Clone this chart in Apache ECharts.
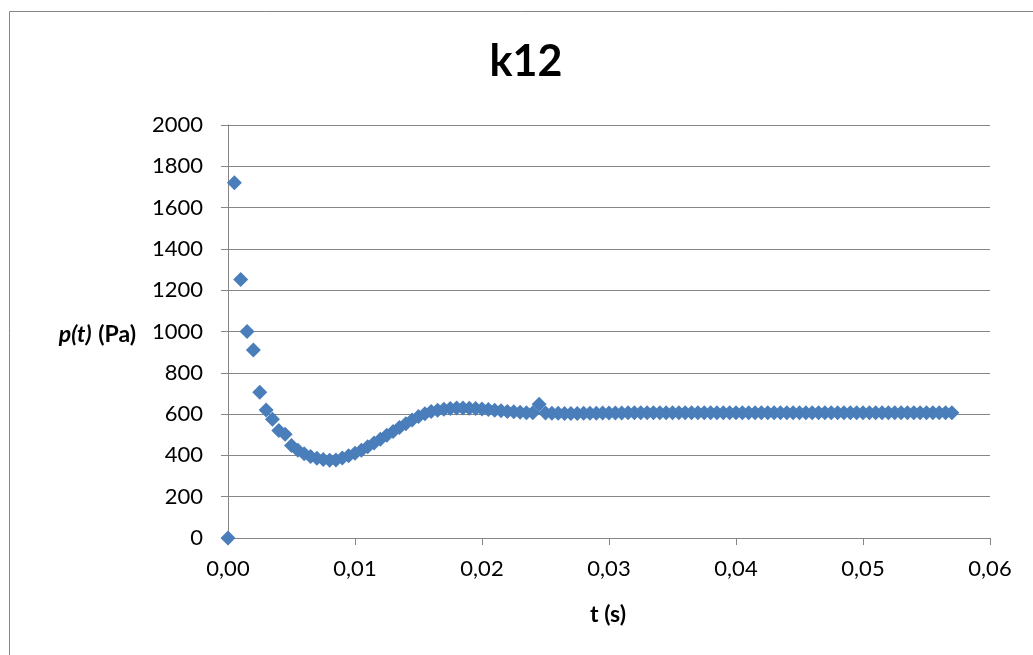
<!DOCTYPE html>
<html>
<head>
<meta charset="utf-8">
<title>k12</title>
<script src="https://cdn.jsdelivr.net/npm/echarts@6/dist/echarts.min.js"></script>
<style>
  html, body { margin: 0; padding: 0; background: #ffffff; }
  #chart { width: 1033px; height: 655px; }
</style>
</head>
<body>
<div id="chart"></div>
<script>
// Sample times (s)
const times = [
  0.0000, 0.0005, 0.0010, 0.0015, 0.0020, 0.0025, 0.0030, 0.0035, 0.0040, 0.0045,
  0.0050, 0.0055, 0.0060, 0.0065, 0.0070, 0.0075, 0.0080, 0.0085, 0.0090, 0.0095,
  0.0100, 0.0105, 0.0110, 0.0115, 0.0120, 0.0125, 0.0130, 0.0135, 0.0140, 0.0145,
  0.0150, 0.0155, 0.0160, 0.0165, 0.0170, 0.0175, 0.0180, 0.0185, 0.0190, 0.0195,
  0.0200, 0.0205, 0.0210, 0.0215, 0.0220, 0.0225, 0.0230, 0.0235, 0.0240, 0.0245,
  0.0250, 0.0255, 0.0260, 0.0265, 0.0270, 0.0275, 0.0280, 0.0285, 0.0290, 0.0295,
  0.0300, 0.0305, 0.0310, 0.0315, 0.0320, 0.0325, 0.0330, 0.0335, 0.0340, 0.0345,
  0.0350, 0.0355, 0.0360, 0.0365, 0.0370, 0.0375, 0.0380, 0.0385, 0.0390, 0.0395,
  0.0400, 0.0405, 0.0410, 0.0415, 0.0420, 0.0425, 0.0430, 0.0435, 0.0440, 0.0445,
  0.0450, 0.0455, 0.0460, 0.0465, 0.0470, 0.0475, 0.0480, 0.0485, 0.0490, 0.0495,
  0.0500, 0.0505, 0.0510, 0.0515, 0.0520, 0.0525, 0.0530, 0.0535, 0.0540, 0.0545,
  0.0550, 0.0555, 0.0560, 0.0565, 0.0570
];

// Pressure p(t) (Pa)
const pressure = [
     0, 1720, 1252, 1000,  910,  706,  620,  575,  520,  503,
   448,  425,  408,  395,  386,  380,  377,  378,  388,  398,
   410,  425,  442,  460,  478,  497,  516,  535,  553,  571,
   588,  602,  612,  619,  624,  627,  629,  629,  628,  627,
   625,  622,  619,  616,  613,  611,  609,  607,  606,  648,
   605,  604,  604,  603,  603,  603,  604,  604,  604,  605,
   605,  605,  605,  606,  606,  606,  606,  606,  606,  607,
   607,  607,  607,  607,  607,  607,  607,  607,  607,  607,
   607,  607,  607,  607,  607,  607,  607,  607,  607,  607,
   607,  607,  607,  607,  607,  607,  607,  607,  607,  607,
   607,  607,  607,  607,  607,  607,  607,  607,  607,  607,
   607,  607,  607,  607,  607
];

const titleText = 'k12';
const xAxisTitle = 't (s)';
const yTickValues = [0, 200, 400, 600, 800, 1000, 1200, 1400, 1600, 1800, 2000];

const FONT = 'Lato, "Open Sans", sans-serif';
const AXIS_GREY = '#868686';
const MARK_BLUE = '#4A7EBB';

const chart = echarts.init(document.getElementById('chart'), null, { renderer: 'canvas' });

const points = times.map((t, i) => [t, pressure[i]]);

chart.setOption({
  animation: false,
  backgroundColor: '#ffffff',
  textStyle: { fontFamily: FONT },
  grid: { left: 228, right: 43, top: 125, bottom: 117, containLabel: false },
  xAxis: {
    type: 'value',
    min: 0,
    max: 0.06,
    interval: 0.01,
    axisLine: { show: true, onZero: false, lineStyle: { color: AXIS_GREY, width: 1 } },
    axisTick: { show: true, inside: false, length: 7, lineStyle: { color: AXIS_GREY } },
    splitLine: { show: false },
    axisLabel: {
      color: '#000', fontSize: 22, fontFamily: FONT, margin: 20,
      formatter: v => v.toFixed(2).replace('.', ',')
    }
  },
  yAxis: {
    type: 'value',
    min: yTickValues[0],
    max: yTickValues[yTickValues.length - 1],
    interval: 200,
    axisLine: { show: true, lineStyle: { color: AXIS_GREY, width: 1 } },
    axisTick: { show: true, inside: false, length: 7, lineStyle: { color: AXIS_GREY } },
    splitLine: { show: true, lineStyle: { color: AXIS_GREY, width: 1 } },
    axisLabel: {
      color: '#000', fontSize: 22, fontFamily: FONT, margin: 25,
      formatter: v => String(v)
    }
  },
  series: [{
    type: 'scatter',
    data: points,
    symbol: 'diamond',
    symbolSize: 15,
    itemStyle: { color: MARK_BLUE, opacity: 1 },
    emphasis: { disabled: true }
  }],
  graphic: [
    // chart frame
    {
      type: 'rect', silent: true, z: -1,
      shape: { x: 9.5, y: 11.5, width: 1100, height: 700 },
      style: { fill: 'none', stroke: AXIS_GREY, lineWidth: 1 }
    },
    {
      type: 'text',
      style: {
        text: titleText, x: 526, y: 62, align: 'center', verticalAlign: 'middle',
        font: 'bold 43px ' + FONT, fill: '#000'
      }
    },
    {
      type: 'text',
      style: {
        text: xAxisTitle, x: 608, y: 615, align: 'center', verticalAlign: 'middle',
        font: 'bold 23px ' + FONT, fill: '#000'
      }
    },
    {
      type: 'text',
      style: {
        text: '{i|p(t)}  {b|(Pa)}', x: 136, y: 335, align: 'right', verticalAlign: 'middle',
        fill: '#000',
        rich: {
          i: { fontFamily: FONT, fontSize: 23, fontWeight: 'bold', fontStyle: 'italic', fill: '#000' },
          b: { fontFamily: FONT, fontSize: 23, fontWeight: 'bold', fill: '#000' }
        }
      }
    }
  ]
});
</script>
</body>
</html>
